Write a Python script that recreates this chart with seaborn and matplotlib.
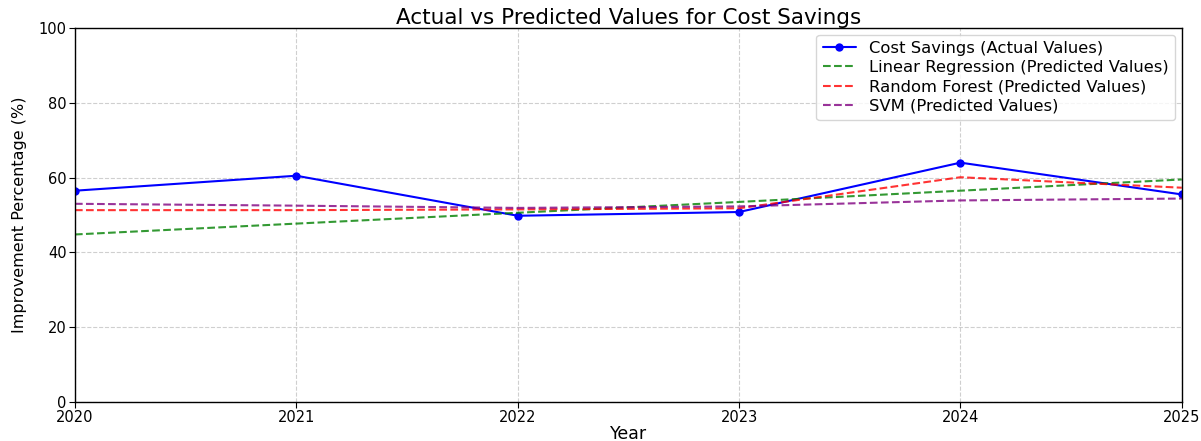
import matplotlib
matplotlib.use("Agg")
import matplotlib.pyplot as plt
import seaborn as sns
import pandas as pd

# Yearly cost-savings improvement (%) and model predictions
years = [2020, 2021, 2022, 2023, 2024, 2025]
actual = [56.5, 60.5, 49.8, 50.8, 64.0, 55.5]
linear_regression = [44.8, 47.7, 50.6, 53.5, 56.5, 59.5]
random_forest = [51.3, 51.3, 51.5, 51.8, 60.1, 57.3]
svm = [53.0, 52.5, 51.9, 52.3, 53.9, 54.4]

sns.set_style("white")
plt.rcParams["font.family"] = ["DejaVu Sans"]
plt.rcParams["text.color"] = "black"
plt.rcParams["axes.labelcolor"] = "black"
plt.rcParams["xtick.color"] = "black"
plt.rcParams["ytick.color"] = "black"

fig = plt.figure(figsize=(12.01, 4.41), dpi=100)
ax = fig.add_axes([0.0624, 0.0884, 0.9216, 0.8481])

df = pd.DataFrame({"Year": years, "actual": actual, "lr": linear_regression,
                   "rf": random_forest, "svm": svm})

sns.lineplot(data=df, x="Year", y="actual", ax=ax, color="blue", marker="o",
             markersize=6, markeredgewidth=0, linewidth=1.5,
             label="Cost Savings (Actual Values)")
sns.lineplot(data=df, x="Year", y="lr", ax=ax, color="green", linestyle="--",
             linewidth=1.5, alpha=0.8, label="Linear Regression (Predicted Values)")
sns.lineplot(data=df, x="Year", y="rf", ax=ax, color="red", linestyle="--",
             linewidth=1.5, alpha=0.8, label="Random Forest (Predicted Values)")
sns.lineplot(data=df, x="Year", y="svm", ax=ax, color="purple", linestyle="--",
             linewidth=1.5, alpha=0.8, label="SVM (Predicted Values)")

ax.set_xlim(2020, 2025)
ax.set_ylim(0, 100)
ax.set_xticks(years)
ax.set_xticklabels([str(y) for y in years])
ax.set_yticks([0, 20, 40, 60, 80, 100])
ax.tick_params(axis="both", labelsize=10.5, length=4, width=0.8, direction="out",
               left=True, bottom=True, pad=2, colors="black")
ax.grid(True, linestyle="--", linewidth=0.8, color="#b0b0b0", alpha=0.6)

for side in ["left", "right", "top", "bottom"]:
    ax.spines[side].set_color("black")
    ax.spines[side].set_linewidth(1.0)

ax.set_title("Actual vs Predicted Values for Cost Savings", fontsize=15.5, pad=3)
ax.set_xlabel("Year", fontsize=12.5, labelpad=0)
ax.set_ylabel("Improvement Percentage (%)", fontsize=11.5, labelpad=8)

leg = ax.legend(loc="upper right", fontsize=11.8, frameon=True, framealpha=0.8,
                edgecolor="#cccccc", borderpad=0.4, labelspacing=0.25,
                handlelength=2.0, borderaxespad=0.4)

fig.savefig("out.png", dpi=100)
